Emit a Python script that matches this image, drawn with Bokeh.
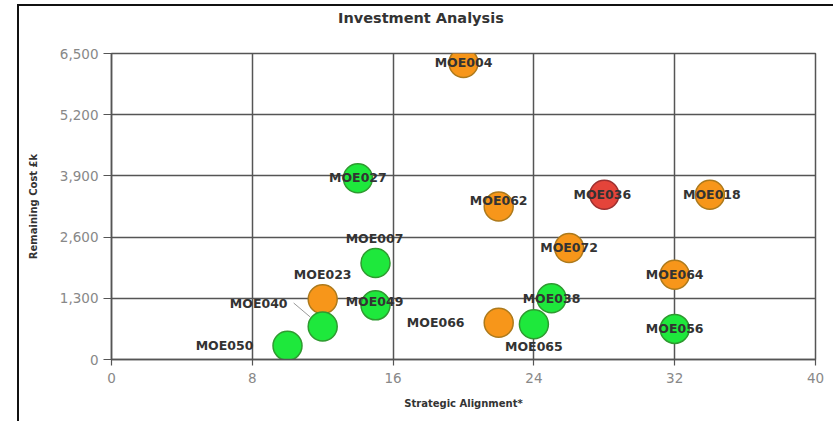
from bokeh.plotting import figure
from bokeh.layouts import column
from bokeh.models import (ColumnDataSource, Range1d, FixedTicker, NumeralTickFormatter,
                          InlineStyleSheet, Div)
from bokeh.core.properties import value
from bokeh.embed import file_html
from bokeh.resources import INLINE

# Projects: strategic alignment score vs remaining cost (£k), coloured by RAG status
projects = ["MOE004", "MOE027", "MOE062", "MOE036", "MOE018", "MOE072", "MOE064", "MOE038",
            "MOE056", "MOE066", "MOE065", "MOE007", "MOE023", "MOE049", "MOE040", "MOE050"]
alignment = [20, 14, 22, 28, 34, 26, 32, 25, 32, 22, 24, 15, 12, 15, 12, 10]
remaining_cost = [6300, 3850, 3250, 3500, 3500, 2370, 1800, 1300, 650, 780, 750, 2050, 1280,
                  1150, 700, 290]
status = ["Amber", "Green", "Amber", "Red", "Amber", "Amber", "Amber", "Green",
          "Green", "Amber", "Green", "Green", "Amber", "Green", "Green", "Green"]

x_ticks = [0, 8, 16, 24, 32, 40]
y_ticks = [0, 1300, 2600, 3900, 5200, 6500]

# label placement relative to each bubble (screen pixels, +y is down)
label_dx = [0, 0, 0, -2, 2, 0, 0, 0, 0, -63, 0, -1, 0, -1, -64, -63]
label_dy = [0, -1, -6, 0, 0, 0, 0, 0, 0, 0, 22, -24, -25, -4, -23, 0]

fills = {"Green": "#1ee83c", "Amber": "#f7961a", "Red": "#e4443a"}
edges = {"Green": "#2f9a30", "Amber": "#ad7a1c", "Red": "#9c3030"}

src = ColumnDataSource(dict(
    x=alignment, y=remaining_cost, name=projects,
    fill=[fills[s] for s in status], edge=[edges[s] for s in status],
    dx=label_dx, dy=label_dy,
))

W = 814
TITLE_H = 41
PLOT_H = 374

# title strip above the plot
header = Div(
    text='<div style="position:absolute; left:319px; top:3px; line-height:18px; '
         'font-family:\'DejaVu Sans\'; font-size:14.5px; font-weight:bold; color:#333333; '
         'white-space:nowrap;">Investment Analysis</div>',
    width=W, height=TITLE_H,
)
header.margin = (0, 0, 0, 0)

p = figure(width=W, height=PLOT_H, output_backend="svg", toolbar_location=None,
           x_range=Range1d(0, 40), y_range=Range1d(0, 6500),
           min_border_left=92, min_border_right=18, min_border_top=6, min_border_bottom=62)
p.margin = (0, 0, 0, 0)

p.background_fill_color = "white"
p.border_fill_color = "white"
p.outline_line_color = "#555555"
p.outline_line_width = 1.5

for ax in (p.xaxis, p.yaxis):
    ax.axis_line_color = "#555555"
    ax.axis_line_width = 1.5
    ax.major_tick_line_color = "#555555"
    ax.major_tick_line_width = 1.2
    ax.major_tick_in = 0
    ax.minor_tick_line_color = None
    ax.major_label_text_font = "DejaVu Sans"
    ax.major_label_text_font_size = "13.5px"
    ax.major_label_text_color = "#888888"
    ax.axis_label_text_font = "DejaVu Sans"
    ax.axis_label_text_font_size = "10px"
    ax.axis_label_text_font_style = "bold"
    ax.axis_label_text_color = "#333333"

p.xaxis.major_tick_out = 6
p.yaxis.major_tick_out = 8
p.xaxis.ticker = FixedTicker(ticks=x_ticks)
p.yaxis.ticker = FixedTicker(ticks=y_ticks)
p.yaxis.formatter = NumeralTickFormatter(format="0,0")
p.xaxis.axis_label = "Strategic Alignment*"
p.yaxis.axis_label = "Remaining Cost £k"
p.xaxis.major_label_standoff = 7
p.yaxis.major_label_standoff = 5
p.xaxis.axis_label_standoff = 12
p.yaxis.axis_label_standoff = 18

p.xgrid.ticker = FixedTicker(ticks=x_ticks)
p.ygrid.ticker = FixedTicker(ticks=y_ticks)
for g in (p.xgrid, p.ygrid):
    g.grid_line_color = "#555555"
    g.grid_line_width = 1.5

# leader line from the MOE040 label to its bubble
i40 = projects.index("MOE040")
p.segment(x0=[alignment[i40] - 1.65], y0=[remaining_cost[i40] + 500],
          x1=[alignment[i40] - 0.7], y1=[remaining_cost[i40] + 200],
          line_color="#999999", line_width=1)

p.scatter("x", "y", source=src, size=29, marker="circle",
          fill_color="fill", line_color="edge", line_width=1.5)

p.text("x", "y", text="name", source=src, x_offset="dx", y_offset="dy",
       text_font=value("DejaVu Sans"), text_font_size="12.5px", text_font_style="bold",
       text_color="#333333", text_align="center", text_baseline="middle")

layout = column(header, p, spacing=0)
layout.margin = (4, 0, 0, 17)
layout.stylesheets = [InlineStyleSheet(
    css=":host { border-top: 2px solid #111; border-left: 2px solid #111; background: white; }")]

open("out.html", "w").write(file_html(layout, INLINE))
